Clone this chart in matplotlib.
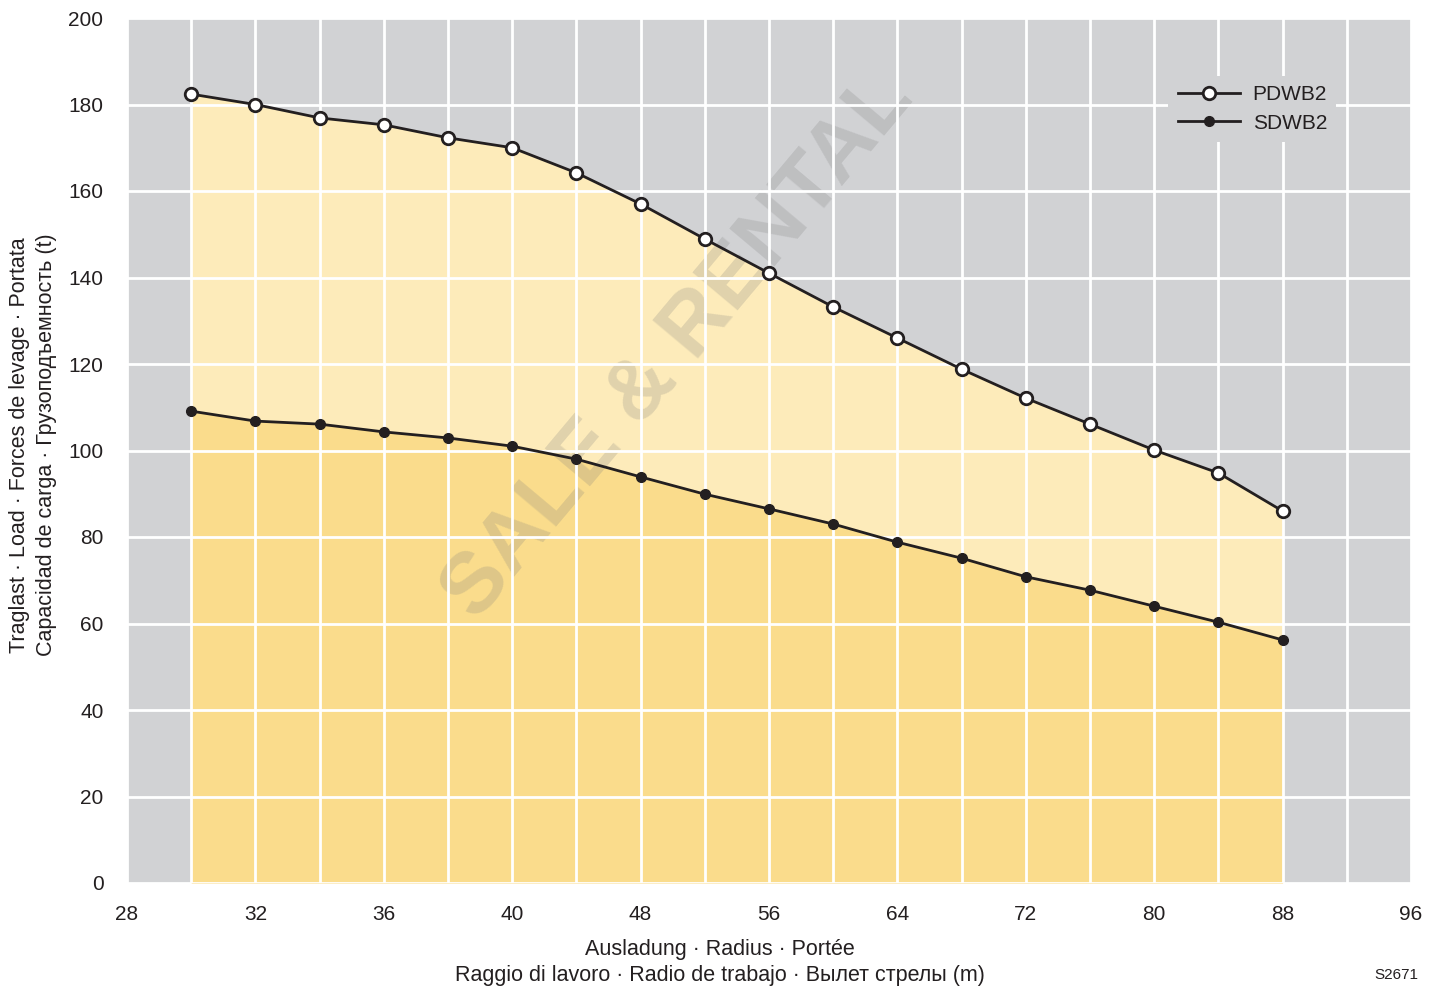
import matplotlib
matplotlib.use("Agg")
import matplotlib.pyplot as plt
import numpy as np

plt.rcParams['font.family'] = ['Liberation Sans', 'DejaVu Sans']

x_labels = ["28", "32", "36", "40", "48", "56", "64", "72", "80", "88", "96"]
radius_pos = list(range(1, 19))
pdwb2 = [182.4, 180.0, 176.9, 175.3, 172.3, 170.0, 164.2, 157.0, 148.9, 141.0,
         133.2, 126.0, 118.8, 112.1, 106.1, 100.1, 94.8, 86.0]
sdwb2 = [109.1, 106.8, 106.1, 104.3, 102.9, 101.0, 98.0, 93.9, 89.9, 86.5,
         83.0, 78.8, 75.1, 70.8, 67.7, 64.0, 60.3, 56.2]

fig = plt.figure(figsize=(14.4, 9.89), dpi=100)
ax = fig.add_axes([127/1440, 1-883/989, (1411-127)/1440, (883-18)/989])
ax.set_facecolor('#d1d2d4')
ax.set_xlim(0, 20)
ax.set_ylim(0, 200)

x = np.array(radius_pos)
ax.fill_between(x, 0, sdwb2, color='#fadc8c', zorder=1, linewidth=0)
ax.fill_between(x, sdwb2, pdwb2, color='#fdebba', zorder=1, linewidth=0)

# watermark
ax.text(0.43, 0.62, "SALE & RENTAL", transform=ax.transAxes, rotation=50,
        fontsize=62, fontweight='bold', color='#7a7a7a', alpha=0.22,
        ha='center', va='center', zorder=1.5)

ax.set_xticks(np.arange(0, 21, 2))
ax.set_xticklabels(x_labels)
ax.set_xticks(np.arange(0, 21, 1), minor=True)
ax.set_yticks(np.arange(0, 201, 20))
ax.grid(True, which='both', color='white', linewidth=2, zorder=2)
ax.set_axisbelow(False)
ax.tick_params(which='both', length=0)
ax.tick_params(axis='both', labelsize=15, colors='#231f20')
ax.tick_params(axis='x', pad=16)
ax.tick_params(axis='y', pad=17)
for s in ax.spines.values():
    s.set_visible(False)

ax.plot(x, pdwb2, color='#231f20', lw=2, marker='o', ms=9, mfc='white',
        mec='#231f20', mew=2, zorder=4, label='PDWB2')
ax.plot(x, sdwb2, color='#231f20', lw=2, marker='o', ms=7, mfc='#231f20',
        mec='#231f20', zorder=4, label='SDWB2')

leg = ax.legend(loc='upper right', bbox_to_anchor=(0.95, 0.945), frameon=True,
                fontsize=15, handlelength=3.0, borderpad=0.45, labelspacing=0.45,
                handletextpad=0.6, fancybox=False)
leg.get_frame().set_facecolor('#d1d2d4')
leg.get_frame().set_edgecolor('none')
leg.get_frame().set_alpha(1)
leg.set_zorder(5)
for t in leg.get_texts():
    t.set_color('#231f20')

fig.text(720/1440, 1-949/989, "Ausladung · Radius · Portée", ha='center', va='center',
         fontsize=15.5, color='#231f20')
fig.text(720/1440, 1-976/989, "Raggio di lavoro · Radio de trabajo · Вылет стрелы (m)",
         ha='center', va='center', fontsize=15.5, color='#231f20')
fig.text(20/1440, 1-445/989, "Traglast · Load · Forces de levage · Portata",
         rotation=90, ha='center', va='center', fontsize=15.5, color='#231f20')
fig.text(47/1440, 1-445/989, "Capacidad de carga · Грузоподъемность (t)",
         rotation=90, ha='center', va='center', fontsize=15.5, color='#231f20')
fig.text(1396/1440, 1-975/989, "S2671", ha='center', va='center', fontsize=11,
         color='#231f20')

fig.savefig("out.png", dpi=100, facecolor='white')
